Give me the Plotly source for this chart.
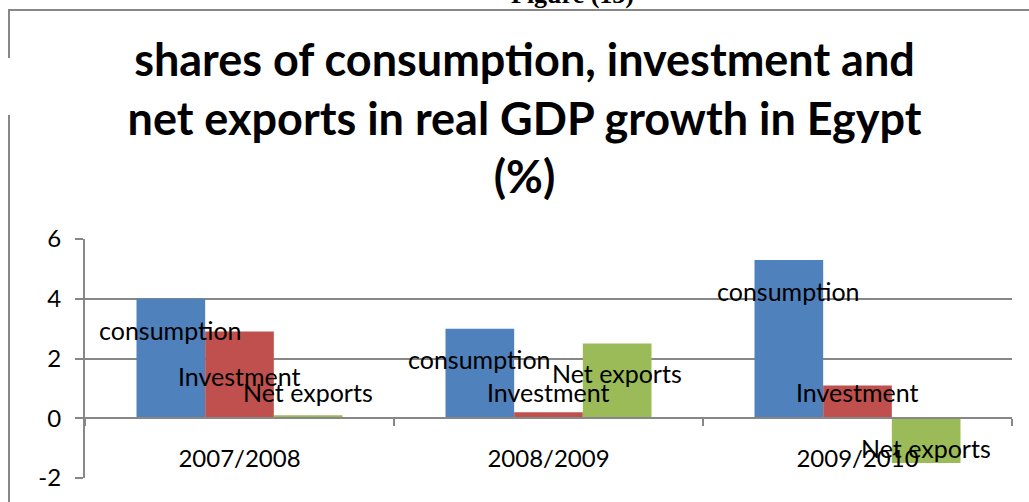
import plotly.graph_objects as go

# Shares in real GDP growth (%), by fiscal year
categories = ["2007/2008", "2008/2009", "2009/2010"]
consumption = [4.0, 3.0, 5.3]
investment = [2.9, 0.2, 1.1]
net_exports = [0.1, 2.5, -1.5]

series_names = ["consumption", "Investment", "Net exports"]
series_values = [consumption, investment, net_exports]
series_colors = ["#4F81BD", "#C0504D", "#9BBB59"]

# Value-axis ticks and their printed labels
y_ticks = [-2, 0, 2, 4, 6]
y_tick_labels = ["-2", "0", "2", "4", "6"]

# Vertical placement (axis units) of each series-name label per year
label_y = [
    [2.97, 2.0, 4.27],
    [1.40, 0.87, 0.87],
    [0.87, 1.50, -1.00],
]

W, H = 1029, 502
L, R, T, B = 85, 17, 239, 24
PW, PH = W - L - R, H - T - B
BARGAP = 1 / 3
Y_RANGE = [-2, 6]
AXIS_GRAY = "#878787"
FONT = "Lato"


def px_x(px):
    return (px - L) / PW


def px_y(py):
    return (H - B - py) / PH


fig = go.Figure()
for name, vals, color in zip(series_names, series_values, series_colors):
    fig.add_trace(go.Bar(
        x=categories, y=vals, name=name,
        marker=dict(color=color, line=dict(width=0)),
        hoverinfo="x+y+name",
    ))

# Series-name labels centred above each bar
bar_w = (1 - BARGAP) / len(series_names)
annotations = []
for j, name in enumerate(series_names):
    for i in range(len(categories)):
        annotations.append(dict(
            x=i + (j - 1) * bar_w, y=label_y[j][i], xref="x", yref="y",
            text=name, showarrow=False, xanchor="center", yanchor="middle",
            font=dict(family=FONT, size=25, color="#000000"),
        ))

# Heading above the chart frame
annotations.append(dict(
    x=px_x(572), y=px_y(-5), xref="paper", yref="paper",
    text="<b>Figure (13)</b>", showarrow=False,
    xanchor="center", yanchor="middle",
    font=dict(family="Liberation Serif", size=26, color="#000000"),
))

shapes = [
    # chart frame
    dict(type="rect", xref="paper", yref="paper",
         x0=px_x(9), x1=px_x(W + 10), y0=px_y(10), y1=px_y(H + 10),
         line=dict(color=AXIS_GRAY, width=2), fillcolor="rgba(0,0,0,0)",
         layer="below"),
    # break in the frame's left edge
    dict(type="line", xref="paper", yref="paper",
         x0=px_x(9), x1=px_x(9), y0=px_y(58), y1=px_y(115),
         line=dict(color="#FFFFFF", width=3)),
]

fig.update_layout(
    width=W, height=H,
    margin=dict(l=L, r=R, t=T, b=B, pad=0),
    paper_bgcolor="#FFFFFF", plot_bgcolor="#FFFFFF",
    barmode="group", bargap=BARGAP, bargroupgap=0,
    showlegend=False,
    title=dict(
        text="<b>shares of consumption, investment and<br>"
             "net exports in real GDP growth in Egypt<br>(%)</b>",
        x=524.5 / W, xanchor="center",
        y=1 - 76 / H, yanchor="top", yref="container",
        font=dict(family=FONT, size=45, color="#000000"),
    ),
    xaxis=dict(
        type="category", anchor="free",
        position=(0 - Y_RANGE[0]) / (Y_RANGE[1] - Y_RANGE[0]),
        showline=True, linecolor=AXIS_GRAY, linewidth=2,
        tickson="boundaries", ticks="outside", ticklen=7,
        tickwidth=2, tickcolor=AXIS_GRAY,
        ticklabelstandoff=19,
        showgrid=False,
        tickfont=dict(family=FONT, size=24, color="#000000"),
    ),
    yaxis=dict(
        range=Y_RANGE, tickmode="array",
        tickvals=y_ticks, ticktext=y_tick_labels,
        showline=True, linecolor=AXIS_GRAY, linewidth=2,
        ticks="outside", ticklen=8, tickwidth=2, tickcolor=AXIS_GRAY,
        showgrid=True, gridcolor=AXIS_GRAY, gridwidth=2,
        zeroline=False,
        ticklabelstandoff=9,
        tickfont=dict(family=FONT, size=24, color="#000000"),
    ),
    annotations=annotations,
    shapes=shapes,
)

fig.write_html("out.html")
